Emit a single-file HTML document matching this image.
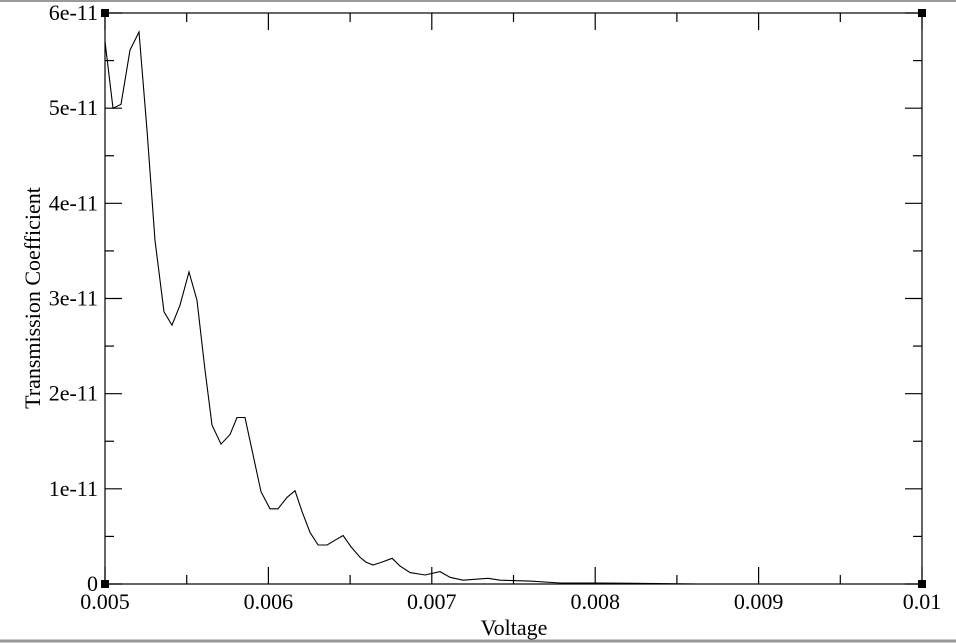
<!DOCTYPE html>
<html><head><meta charset="utf-8">
<style>
html,body{margin:0;padding:0;background:#fff;}
svg{display:block;font-family:"Liberation Serif",serif;}
</style></head>
<body>
<svg id="chart" width="956" height="644" viewBox="0 0 956 644">
<line x1="0" y1="1" x2="956" y2="1" stroke="#999" stroke-width="2"/>
<line x1="0" y1="641" x2="956" y2="641" stroke="#999" stroke-width="3"/>
<g id="axes"></g>
<g id="series"></g>
</svg>
<script>
const voltageMV = [5.000,5.049,5.098,5.153,5.208,5.257,5.306,5.361,5.410,5.459,5.514,5.563,5.612,5.655,5.710,5.765,5.808,5.857,5.906,5.955,6.010,6.059,6.114,6.163,6.206,6.255,6.304,6.359,6.408,6.457,6.506,6.561,6.597,6.640,6.695,6.757,6.805,6.867,6.959,7.050,7.112,7.191,7.344,7.418,7.601,7.785,8.03,8.64,9.25,10.0];
const transE11 = [5.70,5.00,5.04,5.61,5.80,4.77,3.61,2.86,2.72,2.93,3.28,2.98,2.25,1.67,1.47,1.57,1.75,1.75,1.36,0.97,0.79,0.79,0.91,0.98,0.76,0.54,0.41,0.41,0.46,0.51,0.39,0.28,0.23,0.20,0.23,0.27,0.19,0.12,0.095,0.13,0.07,0.04,0.06,0.04,0.03,0.01,0.01,0.0,0.0,0.0];
const xTickLabels = ["0.005","0.006","0.007","0.008","0.009","0.01"];
const yTickLabels = ["0","1e-11","2e-11","3e-11","4e-11","5e-11","6e-11"];

const NS="http://www.w3.org/2000/svg";
const L=105,R=922,T=13,B=584;
const xMin=5,xMax=10,yMin=0,yMax=6;
function xs(v){return L+(v-xMin)/(xMax-xMin)*(R-L);}
function ys(v){return B-(v-yMin)/(yMax-yMin)*(B-T);}
function mk(tag,attrs,parent){const e=document.createElementNS(NS,tag);for(const k in attrs)e.setAttribute(k,attrs[k]);parent.appendChild(e);return e;}
const axes=document.getElementById('axes');
const series=document.getElementById('series');

const frame=mk('rect',{x:L,y:T,width:R-L,height:B-T,fill:'none',stroke:'#000','stroke-width':1.2},axes);



for(let i=0;i<=10;i++){
  const v=xMin+i*0.5, x=xs(v), len=(i%2===0)?17:9;
  const t1=mk('line',{x1:x,y1:B,x2:x,y2:B-len,stroke:'#000','stroke-width':1.2},axes);
  
  
  const t2=mk('line',{x1:x,y1:T,x2:x,y2:T+len,stroke:'#000','stroke-width':1.2},axes);
  
  
}
xTickLabels.forEach((s,i)=>{
  const t=mk('text',{x:xs(xMin+i),y:609,'text-anchor':'middle','font-size':22},axes);
  t.textContent=s;
  
  
});
for(let i=0;i<=12;i++){
  const v=yMin+i*0.5, y=ys(v), len=(i%2===0)?17:9;
  const t1=mk('line',{x1:L,y1:y,x2:L+len,y2:y,stroke:'#000','stroke-width':1.2},axes);
  
  
  const t2=mk('line',{x1:R,y1:y,x2:R-len,y2:y,stroke:'#000','stroke-width':1.2},axes);
  
  
}
yTickLabels.forEach((s,i)=>{
  const t=mk('text',{x:98,y:ys(i)+7,'text-anchor':'end','font-size':22},axes);
  t.textContent=s;
  
  
});
[[L,T],[R,T],[L,B],[R,B]].forEach(p=>{
  const m=mk('rect',{x:p[0]-4,y:p[1]-4,width:8,height:8,fill:'#000'},axes);
  
  
});
const xt=mk('text',{x:514,y:635,'text-anchor':'middle','font-size':22},axes);
xt.textContent='Voltage';


const yt=mk('text',{x:0,y:0,'text-anchor':'middle','font-size':22,transform:'translate(40,298) rotate(-90)'},axes);
yt.textContent='Transmission Coefficient';



const pts=voltageMV.map((v,i)=>xs(v).toFixed(1)+','+ys(transE11[i]).toFixed(1)).join(' ');
const line=mk('polyline',{points:pts,fill:'none',stroke:'#000','stroke-width':1.1},series);


</script>
</body></html>
